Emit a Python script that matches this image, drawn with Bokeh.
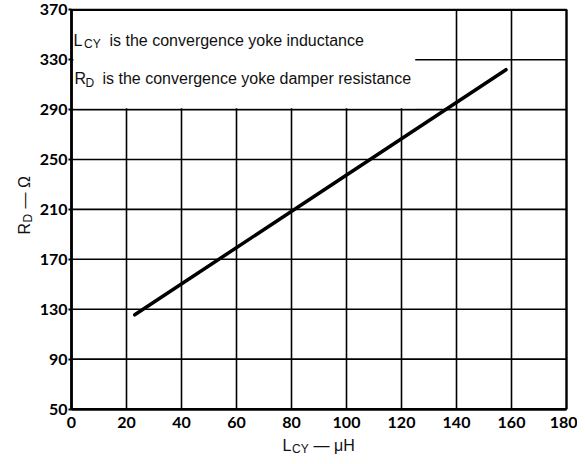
import math
from bokeh.plotting import figure
from bokeh.models import Label, FixedTicker, Range1d
from bokeh.embed import file_html
from bokeh.resources import INLINE

# ---- data ----
lcy_uH = [23, 158]          # convergence yoke inductance (µH)
rd_ohm = [125.5, 322]       # damper resistance (Ω)
x_ticks = [0, 20, 40, 60, 80, 100, 120, 140, 160, 180]
y_ticks = [50, 90, 130, 170, 210, 250, 290, 330, 370]

TXT_FONT = "Liberation Sans"
TICK_FONT = "Lato"

W, H = 577, 456
# plot region: x 0..180 -> px 71..566, y 370..50 -> px 9.3..408.5
PX_L, PX_R, PX_T, PX_B = 71, 566, 9.3, 408.5
sx = (PX_R - PX_L) / 180.0
sy = (PX_B - PX_T) / 320.0
x_lo = 0 - PX_L / sx
x_hi = 180 + (W - PX_R) / sx
y_hi = 370 + PX_T / sy
y_lo = 50 - (H - PX_B) / sy


def ydata(py):
    return y_hi - py / sy


def xdata(px):
    return x_lo + px / sx


p = figure(width=W, height=H,
           x_range=Range1d(x_lo, x_hi), y_range=Range1d(y_lo, y_hi),
           output_backend="svg", toolbar_location=None, min_border=0)
p.background_fill_color = "white"
p.border_fill_color = "white"
p.outline_line_color = None
p.grid.visible = False

p.xaxis.ticker = FixedTicker(ticks=x_ticks)
p.yaxis.ticker = FixedTicker(ticks=y_ticks)
p.xaxis.fixed_location = y_ticks[0]
p.yaxis.fixed_location = x_ticks[0]
p.xaxis.bounds = (x_ticks[0], x_ticks[-1])
p.yaxis.bounds = (y_ticks[0], y_ticks[-1])
p.axis.major_label_text_font = TICK_FONT
p.axis.major_label_text_font_style = "bold"
p.axis.major_label_text_font_size = "16px"
p.axis.major_label_text_color = "black"
p.axis.axis_line_color = "black"
p.axis.axis_line_width = 2.5
p.axis.minor_tick_in = 0
p.axis.minor_tick_out = 0
p.axis.major_tick_line_color = "black"
p.axis.major_tick_line_width = 2
p.xaxis.major_tick_in = 0
p.xaxis.major_tick_out = 0
p.xaxis.major_label_standoff = 8
p.yaxis.major_tick_in = 0
p.yaxis.major_tick_out = 3
p.yaxis.major_label_standoff = 1

# grid lines from the tick arrays
p.segment(x0=x_ticks, x1=x_ticks, y0=[y_ticks[0]] * len(x_ticks),
          y1=[y_ticks[-1]] * len(x_ticks), line_color="black", line_width=1.6)
p.segment(x0=[x_ticks[0]] * len(y_ticks), x1=[x_ticks[-1]] * len(y_ticks),
          y0=y_ticks, y1=y_ticks, line_color="black", line_width=1.6)

# white text box hiding the grid in the top-left corner
p.quad(left=[0.7], right=[125], bottom=[291], top=[369.3],
       fill_color="white", line_color=None)

# plot frame
p.quad(left=[x_ticks[0]], right=[x_ticks[-1]], bottom=[y_ticks[0]],
       top=[y_ticks[-1]], fill_color=None, line_color="black", line_width=2.2)

# the curve
p.line(lcy_uH, rd_ohm, line_width=3.5, line_color="black", line_cap="round")


def lab(text, x, y, dx, dy, size="16px", angle=0.0):
    p.add_layout(Label(x=x, y=y, x_offset=dx, y_offset=dy, text=text,
                       text_font=TXT_FONT, text_font_size=size,
                       text_color="#111111", text_align="left",
                       text_baseline="alphabetic", angle=angle))

# box text, line 1
y1 = ydata(40)
lab("L", 0, y1, 2, 0)
lab("CY", 0, y1, 12.5, -3, size="12px")
lab("is the convergence yoke inductance", 0, y1, 38, 0)
# box text, line 2
y2 = ydata(78)
lab("R", 0, y2, 3, 0)
lab("D", 0, y2, 14, -4, size="12px")
lab("is the convergence yoke damper resistance", 0, y2, 31, 0)

# x axis title: L_CY — µH
xl, yl = xdata(282), ydata(445)
lab("L", xl, yl, 0, 0)
lab("CY", xl, yl, 9.5, -3, size="12px")
lab("\u2014 \u03bcH", xl, yl, 31, 0)

# y axis title (rotated): R_D — Ω
xr, yr = xdata(24), ydata(234)
a = math.pi / 2
lab("R", xr, yr, 0, 0, angle=a)
lab("D", xr, yr, 3.5, 12, size="12px", angle=a)
lab("\u2014 \u03a9", xr, yr, 0, 26, angle=a)

open("out.html", "w").write(file_html(p, INLINE))
